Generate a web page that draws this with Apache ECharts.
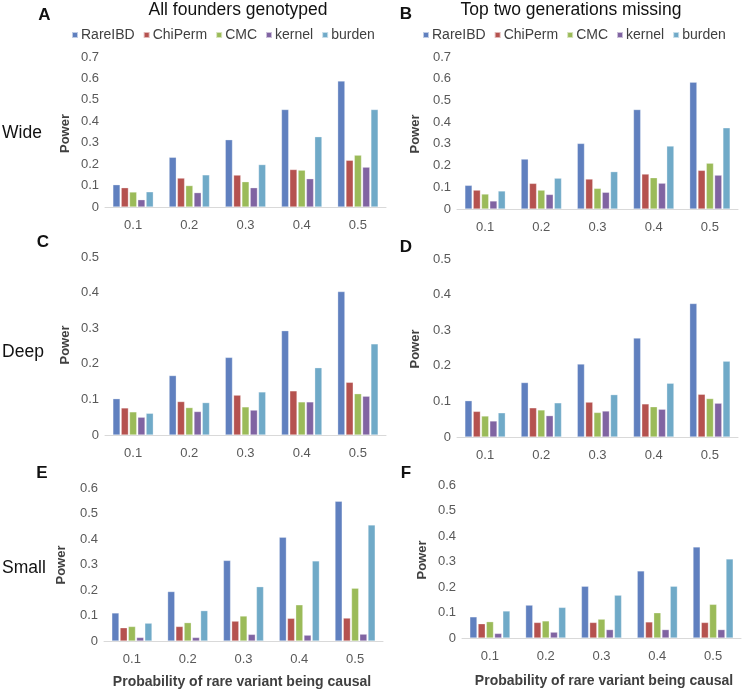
<!DOCTYPE html>
<html>
<head>
<meta charset="utf-8">
<script src="https://cdn.jsdelivr.net/npm/echarts@6/dist/echarts.min.js"></script>
<style>
html,body{margin:0;padding:0;background:#fff;}
#chart{width:745px;height:692px;}
</style>
</head>
<body>
<div id="chart"></div>
<script>
const categories = ['0.1', '0.2', '0.3', '0.4', '0.5'];
const methods = ['RareIBD', 'ChiPerm', 'CMC', 'kernel', 'burden'];

// Panel A: Wide, all founders genotyped
const A_RareIBD = [0.104, 0.232, 0.314, 0.455, 0.588];
const A_ChiPerm = [0.090, 0.135, 0.149, 0.175, 0.218];
const A_CMC     = [0.070, 0.100, 0.118, 0.172, 0.242];
const A_kernel  = [0.034, 0.067, 0.090, 0.132, 0.186];
const A_burden  = [0.071, 0.150, 0.198, 0.328, 0.455];

// Panel B: Wide, top two generations missing
const B_RareIBD = [0.109, 0.230, 0.302, 0.458, 0.584];
const B_ChiPerm = [0.087, 0.118, 0.138, 0.161, 0.178];
const B_CMC     = [0.069, 0.087, 0.095, 0.144, 0.211];
const B_kernel  = [0.037, 0.067, 0.077, 0.119, 0.156];
const B_burden  = [0.083, 0.142, 0.172, 0.290, 0.374];

// Panel C: Deep, all founders genotyped
const C_RareIBD = [0.102, 0.167, 0.218, 0.293, 0.403];
const C_ChiPerm = [0.076, 0.094, 0.112, 0.124, 0.148];
const C_CMC     = [0.065, 0.077, 0.079, 0.093, 0.116];
const C_kernel  = [0.050, 0.066, 0.070, 0.093, 0.109];
const C_burden  = [0.061, 0.091, 0.121, 0.189, 0.256];

// Panel D: Deep, top two generations missing
const D_RareIBD = [0.102, 0.153, 0.205, 0.278, 0.375];
const D_ChiPerm = [0.072, 0.082, 0.098, 0.093, 0.120];
const D_CMC     = [0.059, 0.076, 0.069, 0.085, 0.108];
const D_kernel  = [0.045, 0.060, 0.073, 0.078, 0.095];
const D_burden  = [0.068, 0.096, 0.119, 0.151, 0.213];

// Panel E: Small, all founders genotyped
const E_RareIBD = [0.110, 0.194, 0.316, 0.407, 0.548];
const E_ChiPerm = [0.052, 0.057, 0.078, 0.089, 0.090];
const E_CMC     = [0.057, 0.072, 0.098, 0.142, 0.207];
const E_kernel  = [0.014, 0.014, 0.026, 0.023, 0.027];
const E_burden  = [0.070, 0.119, 0.213, 0.314, 0.455];

// Panel F: Small, top two generations missing
const F_RareIBD = [0.083, 0.129, 0.203, 0.263, 0.357];
const F_ChiPerm = [0.056, 0.061, 0.061, 0.063, 0.061];
const F_CMC     = [0.064, 0.067, 0.074, 0.099, 0.132];
const F_kernel  = [0.018, 0.023, 0.033, 0.033, 0.033];
const F_burden  = [0.106, 0.120, 0.168, 0.203, 0.310];

const panelData = [
  [A_RareIBD, A_ChiPerm, A_CMC, A_kernel, A_burden],
  [B_RareIBD, B_ChiPerm, B_CMC, B_kernel, B_burden],
  [C_RareIBD, C_ChiPerm, C_CMC, C_kernel, C_burden],
  [D_RareIBD, D_ChiPerm, D_CMC, D_kernel, D_burden],
  [E_RareIBD, E_ChiPerm, E_CMC, E_kernel, E_burden],
  [F_RareIBD, F_ChiPerm, F_CMC, F_kernel, F_burden]
];
const yMax = [0.7, 0.7, 0.5, 0.5, 0.6, 0.6];
const colors = ['#6080BF', '#B5524F', '#9BBB59', '#8064A2', '#70AAC8'];

const grids = [
  {left: 105, top: 57, width: 281, height: 150},
  {left: 457, top: 57, width: 281, height: 152},
  {left: 105, top: 257, width: 281, height: 178},
  {left: 457, top: 259, width: 281, height: 178},
  {left: 104, top: 488, width: 279, height: 153},
  {left: 462, top: 485, width: 279, height: 153}
];

const FONT = 'Liberation Sans, Arial, sans-serif';

const xAxes = grids.map((g, i) => ({
  type: 'category', gridIndex: i, data: categories,
  axisLine: {lineStyle: {color: '#d9d9d9', width: 1}},
  axisTick: {show: false},
  axisLabel: {color: '#595959', fontSize: 13, fontFamily: FONT, margin: 12}
}));
const yAxes = grids.map((g, i) => ({
  type: 'value', gridIndex: i, min: 0, max: yMax[i], interval: 0.1,
  axisLine: {show: false}, axisTick: {show: false},
  splitLine: {show: false},
  axisLabel: {color: '#595959', fontSize: 13, fontFamily: FONT, margin: 6,
    formatter: v => v === 0 ? '0' : v.toFixed(1)}
}));

const series = [];
panelData.forEach((arrs, p) => {
  arrs.forEach((arr, m) => {
    series.push({
      type: 'bar', name: methods[m], xAxisIndex: p, yAxisIndex: p,
      data: arr, barGap: '15%', barCategoryGap: '28%',
      itemStyle: {color: colors[m], borderColor: 'rgba(255,255,255,0.6)', borderWidth: 0.5},
      emphasis: {disabled: true}
    });
  });
});

function txt(x, y, text, size, weight, extra) {
  return Object.assign({
    type: 'text', x: x, y: y,
    style: {text: text, fontSize: size, fontWeight: weight || 'normal', fontFamily: FONT,
      fill: '#111', textAlign: 'center', textVerticalAlign: 'middle'}
  }, extra || {});
}

const graphics = [
  txt(44.5, 15, 'A', 17, 'bold'),
  txt(406, 14, 'B', 17, 'bold'),
  txt(43, 242, 'C', 17, 'bold'),
  txt(406, 247, 'D', 17, 'bold'),
  txt(42, 473.5, 'E', 17, 'bold'),
  txt(406, 473, 'F', 17, 'bold'),
  txt(238, 10, 'All founders genotyped', 17.5, 'normal'),
  txt(571, 10, 'Top two generations missing', 17.5, 'normal'),
  txt(22, 133, 'Wide', 17.5, 'normal'),
  txt(23, 352, 'Deep', 17.5, 'normal'),
  txt(24, 568, 'Small', 17.5, 'normal'),
  txt(65, 133.5, 'Power', 13, 'bold', {rotation: Math.PI / 2}),
  txt(415.5, 134, 'Power', 13, 'bold', {rotation: Math.PI / 2}),
  txt(65, 345, 'Power', 13, 'bold', {rotation: Math.PI / 2}),
  txt(415, 349, 'Power', 13, 'bold', {rotation: Math.PI / 2}),
  txt(61, 565, 'Power', 13, 'bold', {rotation: Math.PI / 2}),
  txt(422.5, 560, 'Power', 13, 'bold', {rotation: Math.PI / 2}),
  txt(242, 682, 'Probability of rare variant being causal', 14, 'bold'),
  txt(604, 681, 'Probability of rare variant being causal', 14, 'bold')
];
graphics.forEach(g => { if (g.style.text === 'Power' || g.style.text.indexOf('Probability') === 0) g.style.fill = '#404040'; });

const legendBase = {
  data: methods, icon: 'rect', itemWidth: 6, itemHeight: 6, itemGap: 8,
  selectedMode: false,
  textStyle: {color: '#404040', fontSize: 14, fontFamily: FONT, padding: [0, 0, 0, -2]}
};

const chart = echarts.init(document.getElementById('chart'), null, {renderer: 'canvas'});
chart.setOption({
  animation: false,
  backgroundColor: '#fff',
  color: colors,
  grid: grids,
  xAxis: xAxes,
  yAxis: yAxes,
  legend: [
    Object.assign({left: 66, top: 23}, legendBase),
    Object.assign({left: 417, top: 23}, legendBase)
  ],
  series: series,
  graphic: graphics
});
</script>
</body>
</html>
